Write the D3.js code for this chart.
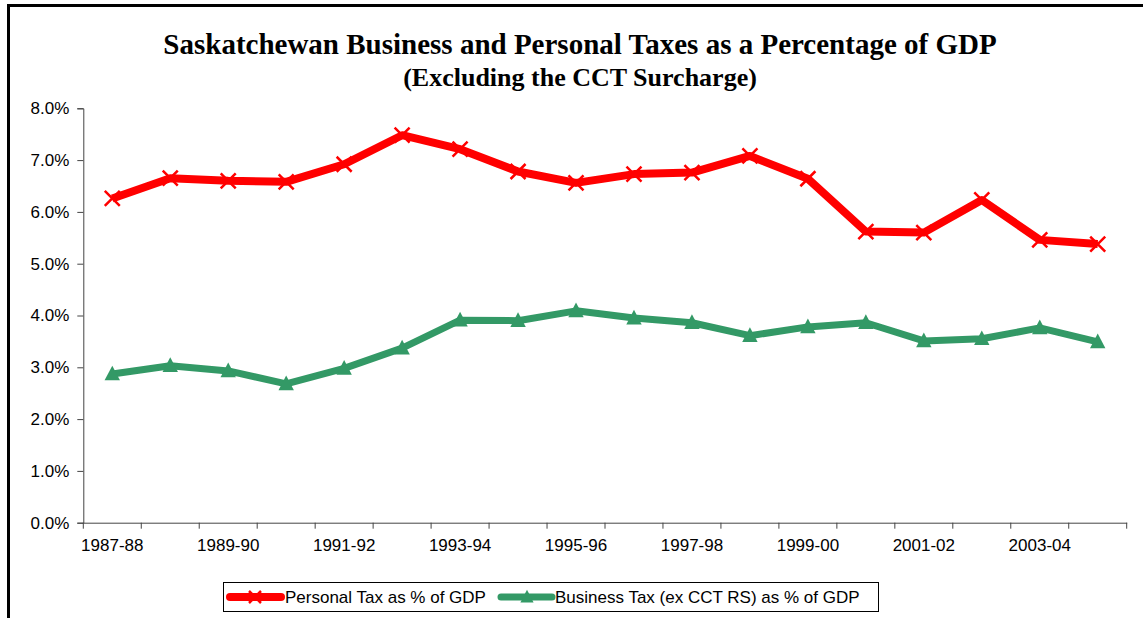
<!DOCTYPE html>
<html>
<head>
<meta charset="utf-8">
<script src="https://cdn.jsdelivr.net/npm/d3@7"></script>
<style>
  html, body { margin: 0; padding: 0; background: #fff; }
  svg { display: block; }
</style>
</head>
<body>
<svg id="chart" width="1143" height="618"></svg>
<script>
// Fiscal years on the category axis
const years = ["1987-88","1988-89","1989-90","1990-91","1991-92","1992-93","1993-94","1994-95","1995-96",
               "1996-97","1997-98","1998-99","1999-00","2000-01","2001-02","2002-03","2003-04","2004-05"];
// Labels printed under the axis (every second year)
const xTickLabels = ["1987-88","1989-90","1991-92","1993-94","1995-96","1997-98","1999-00","2001-02","2003-04"];
// Percent of GDP
const personalTax = [6.26, 6.65, 6.60, 6.58, 6.92, 7.48, 7.21, 6.78, 6.56, 6.73, 6.76, 7.08, 6.64, 5.62, 5.60, 6.23, 5.46, 5.38];
const businessTax = [2.87, 3.03, 2.93, 2.68, 2.98, 3.37, 3.91, 3.90, 4.09, 3.95, 3.86, 3.61, 3.78, 3.86, 3.51, 3.55, 3.76, 3.49];
const yTicks = [0, 1, 2, 3, 4, 5, 6, 7, 8];
const seriesNames = ["Personal Tax as % of GDP", "Business Tax (ex CCT RS) as % of GDP"];

const svg = d3.select("#chart");
const sans = "Arial, 'Liberation Sans', sans-serif";
const serif = "'Times New Roman', 'Liberation Serif', serif";
const labelSize = 17;

// Outer frame (left and top edges visible)
svg.append("path")
  .attr("d", "M8.5,618 L8.5,5.5 L1143,5.5")
  .attr("fill", "none").attr("stroke", "#000").attr("stroke-width", 3);

// Title
svg.append("text").attr("x", 580).attr("y", 54)
  .attr("text-anchor", "middle").attr("font-family", serif).attr("font-weight", "bold")
  .attr("font-size", 29).text("Saskatchewan Business and Personal Taxes as a Percentage of GDP");
svg.append("text").attr("x", 580).attr("y", 86)
  .attr("text-anchor", "middle").attr("font-family", serif).attr("font-weight", "bold")
  .attr("font-size", 26).text("(Excluding the CCT Surcharge)");

const plotL = 83.3, plotR = 1126.7, plotT = 108.3, plotB = 522.7;
const x = d3.scaleBand().domain(years).range([plotL, plotR]).padding(0);
const y = d3.scaleLinear().domain([0, 8]).range([plotB, plotT]);
const cx = d => x(d) + x.bandwidth() / 2;

// Y axis
const yAxis = svg.append("g").attr("transform", `translate(${plotL},0)`)
  .call(d3.axisLeft(y).tickValues(yTicks).tickSize(6).tickPadding(8)
    .tickFormat(d => d.toFixed(1) + "%"));
yAxis.select(".domain").attr("stroke", "#444");
yAxis.selectAll(".tick line").attr("stroke", "#444");
yAxis.selectAll("text").attr("font-family", sans).attr("font-size", labelSize).attr("fill", "#000");

// X axis: labels centred on categories, ticks on category boundaries
const xAxis = svg.append("g").attr("transform", `translate(0,${plotB})`)
  .call(d3.axisBottom(x).tickSize(0).tickPadding(16)
    .tickFormat(d => xTickLabels.includes(d) ? d : ""));
xAxis.select(".domain").attr("stroke", "#444");
xAxis.selectAll("text").attr("font-family", sans).attr("font-size", labelSize).attr("fill", "#000");
const bounds = years.map(d => x(d)).concat([x(years[years.length - 1]) + x.bandwidth()]);
xAxis.selectAll(".bound").data(bounds).enter().append("line")
  .attr("x1", d => d).attr("x2", d => d).attr("y1", 0).attr("y2", 6)
  .attr("stroke", "#444");

const red = "#FF0000", green = "#339966";
const line = d3.line().x((d, i) => cx(years[i])).y(d => y(d));

// Personal tax line with X markers
svg.append("path").datum(personalTax).attr("d", line)
  .attr("fill", "none").attr("stroke", red).attr("stroke-width", 8).attr("stroke-linejoin", "round");
const xMark = (g, px, py, r) => {
  g.append("path")
    .attr("d", `M${px - r},${py - r}L${px + r},${py + r}M${px - r},${py + r}L${px + r},${py - r}`)
    .attr("stroke", red).attr("stroke-width", 2.5).attr("fill", "none");
};
const gP = svg.append("g");
personalTax.forEach((v, i) => xMark(gP, cx(years[i]), y(v), 7.5));

// Business tax line with triangle markers
svg.append("path").datum(businessTax).attr("d", line)
  .attr("fill", "none").attr("stroke", green).attr("stroke-width", 7).attr("stroke-linejoin", "round");
const tri = (g, px, py, s) => {
  g.append("path")
    .attr("d", `M${px},${py - s * 0.6}L${px + s * 0.55},${py + s * 0.45}L${px - s * 0.55},${py + s * 0.45}Z`)
    .attr("fill", green);
};
const gB = svg.append("g");
businessTax.forEach((v, i) => tri(gB, cx(years[i]), y(v), 14));

// Legend
const lg = svg.append("g");
lg.append("rect").attr("x", 223.5).attr("y", 582.5).attr("width", 655).attr("height", 29)
  .attr("fill", "#fff").attr("stroke", "#000").attr("stroke-width", 1);
const ly = 597;
lg.append("line").attr("x1", 230).attr("x2", 281).attr("y1", ly).attr("y2", ly)
  .attr("stroke", red).attr("stroke-width", 8).attr("stroke-linecap", "round");
xMark(lg, 255, ly, 6);
lg.append("text").attr("x", 285).attr("y", ly + 6).attr("font-family", sans).attr("font-size", labelSize)
  .text(seriesNames[0]);
lg.append("line").attr("x1", 501).attr("x2", 552).attr("y1", ly).attr("y2", ly)
  .attr("stroke", green).attr("stroke-width", 7).attr("stroke-linecap", "round");
tri(lg, 527, ly, 12);
lg.append("text").attr("x", 555).attr("y", ly + 6).attr("font-family", sans).attr("font-size", labelSize)
  .text(seriesNames[1]);
</script>
</body>
</html>
